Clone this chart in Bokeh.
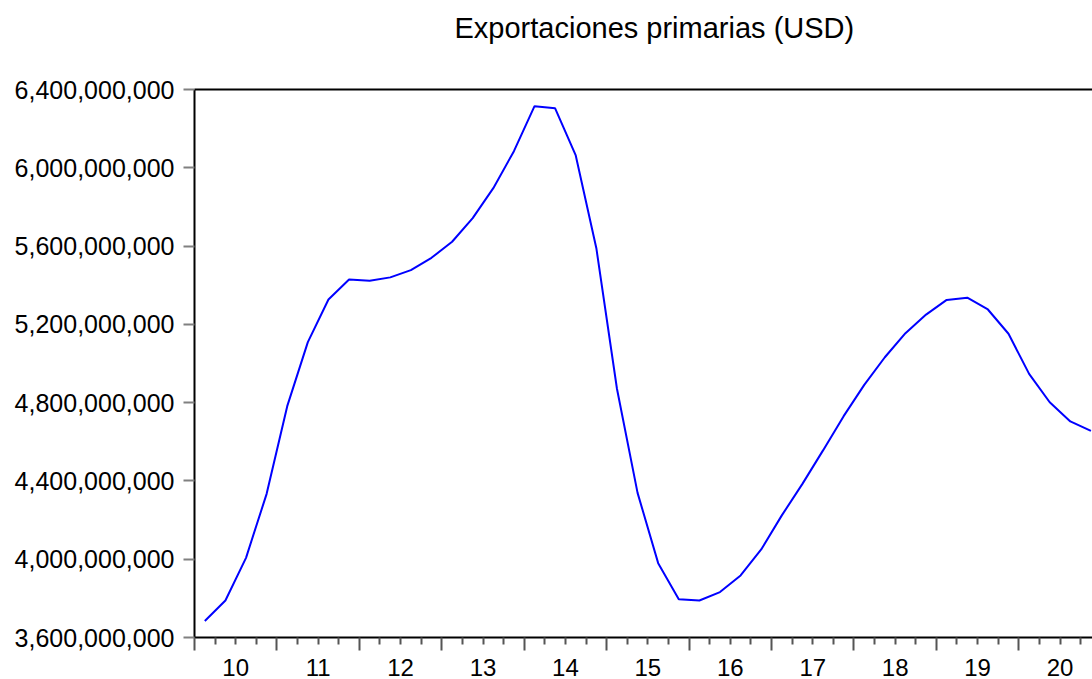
from bokeh.plotting import figure
from bokeh.models import Range1d, FixedTicker, LinearAxis, NumeralTickFormatter
from bokeh.embed import file_html
from bokeh.resources import INLINE

title_text = "Exportaciones primarias (USD)"
years = [2010, 2011, 2012, 2013, 2014, 2015, 2016, 2017, 2018, 2019, 2020]
year_labels = ["10", "11", "12", "13", "14", "15", "16", "17", "18", "19", "20"]
quarters = [1, 2, 3, 4]
# quarterly values 2010Q1 .. 2020Q4
values = [
    3.684e9, 3.789e9, 4.007e9, 4.334e9,
    4.782e9, 5.109e9, 5.327e9, 5.429e9,
    5.423e9, 5.440e9, 5.477e9, 5.540e9,
    5.622e9, 5.743e9, 5.896e9, 6.085e9,
    6.315e9, 6.304e9, 6.063e9, 5.589e9,
    4.871e9, 4.339e9, 3.980e9, 3.796e9,
    3.789e9, 3.832e9, 3.917e9, 4.050e9,
    4.224e9, 4.385e9, 4.556e9, 4.731e9,
    4.891e9, 5.032e9, 5.155e9, 5.250e9,
    5.325e9, 5.336e9, 5.276e9, 5.152e9,
    4.947e9, 4.802e9, 4.704e9, 4.656e9,
]
y_ticks = [3.6e9, 4.0e9, 4.4e9, 4.8e9, 5.2e9, 5.6e9, 6.0e9, 6.4e9]

# x position of each quarter = middle of the quarter
xs = [y + (q - 0.5) / 4 for y in years for q in quarters]

FONT = "Liberation Sans"

p = figure(width=1092, height=679, output_backend="svg", toolbar_location=None,
           x_axis_location=None,
           x_range=Range1d(2010.0, 2020.894), y_range=Range1d(y_ticks[0], y_ticks[-1]),
           min_border_left=194, min_border_right=0, min_border_top=89, min_border_bottom=42)
p.outline_line_color = None
p.xgrid.visible = False
p.ygrid.visible = False
p.background_fill_color = "white"
p.border_fill_color = "white"

p.title.text = title_text
p.title.text_font = FONT
p.title.text_font_size = "29px"
p.title.text_font_style = "normal"
p.title.text_color = "black"
p.title.align = "left"
p.title.offset = 260
p.title.standoff = 0

p.line(xs, values, line_color="#0000FF", line_width=2)

# top border: an axis with one hidden tick, also spacing the title away from the frame
top_axis = LinearAxis(ticker=FixedTicker(ticks=[years[5]]),
                      major_label_overrides={years[5]: ""})
top_axis.axis_line_color = "black"
top_axis.axis_line_width = 2
top_axis.major_tick_in = 0
top_axis.major_tick_out = 46
top_axis.minor_tick_out = 0
top_axis.major_tick_line_alpha = 0
top_axis.minor_tick_line_color = None
top_axis.major_label_text_font_size = "1px"
top_axis.major_label_standoff = 0
p.add_layout(top_axis, "above")

# y axis
ya = p.yaxis[0]
ya.ticker = FixedTicker(ticks=y_ticks)
ya.formatter = NumeralTickFormatter(format="0,0")
ya.axis_line_color = "black"
ya.axis_line_width = 2
ya.major_tick_in = 0
ya.major_tick_out = 11
ya.major_tick_line_color = "#808080"
ya.major_tick_line_width = 2
ya.minor_tick_line_color = None
ya.major_label_text_font = FONT
ya.major_label_text_font_size = "25px"
ya.major_label_text_color = "black"
ya.major_label_standoff = 9

# x axis with year/quarter ticks (no labels)
year_bounds = years + [years[-1] + 1]
quarter_bounds = [y + q / 4 for y in years for q in quarters[:-1]]
xa = LinearAxis(ticker=FixedTicker(ticks=year_bounds, minor_ticks=quarter_bounds))
xa.axis_line_color = "black"
xa.axis_line_width = 2
xa.major_tick_in = 0
xa.major_tick_out = 13
xa.minor_tick_in = 0
xa.minor_tick_out = 7
xa.major_tick_line_color = "#555555"
xa.minor_tick_line_color = "#555555"
xa.major_tick_line_width = 2
xa.minor_tick_line_width = 2
xa.major_label_overrides = {y: "" for y in year_bounds}
xa.major_label_text_font_size = "1px"
xa.major_label_standoff = 0
p.add_layout(xa, "below")

# year labels centred in each year
mids = [y + 0.5 for y in years]
xb = LinearAxis(ticker=FixedTicker(ticks=mids),
                major_label_overrides={m: lab for m, lab in zip(mids, year_labels)})
xb.axis_line_color = None
xb.major_tick_line_color = None
xb.minor_tick_line_color = None
xb.major_label_text_font = FONT
xb.major_label_text_font_size = "24px"
xb.major_label_text_color = "black"
xb.major_label_standoff = 2
p.add_layout(xb, "below")

open("out.html", "w").write(file_html(p, INLINE))
